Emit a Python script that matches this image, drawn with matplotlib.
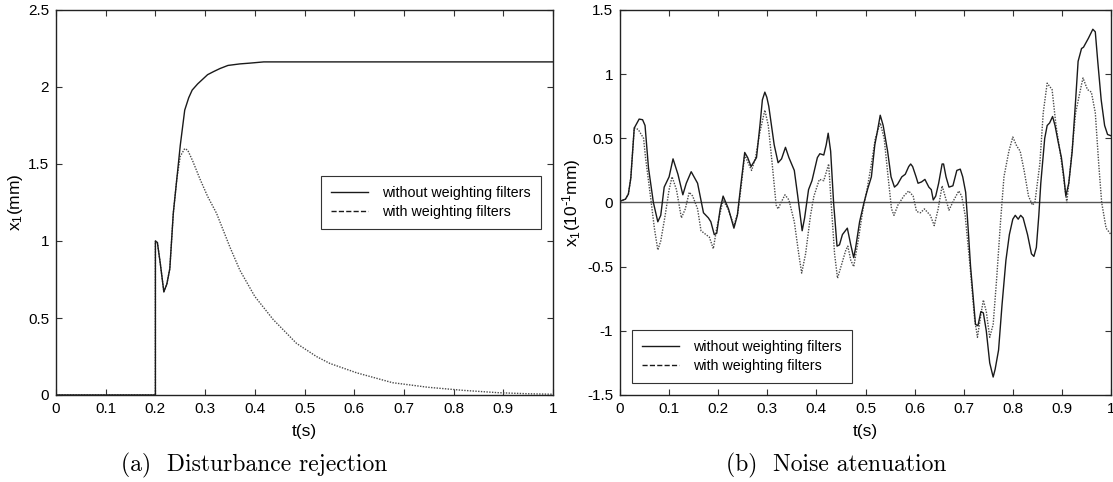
import matplotlib
matplotlib.use("Agg")
import matplotlib.pyplot as plt
from matplotlib.lines import Line2D
from matplotlib.ticker import FormatStrFormatter

plt.rcParams["font.family"] = ["Liberation Sans", "DejaVu Sans"]
plt.rcParams["mathtext.default"] = "regular"
plt.rcParams["axes.unicode_minus"] = False

# (a) disturbance rejection
t_a_solid = [0.0, 0.2, 0.2, 0.204, 0.21, 0.217, 0.223, 0.229, 0.236, 0.243, 0.25,
             0.259, 0.267, 0.274, 0.285, 0.295, 0.305, 0.317, 0.33, 0.346, 0.37,
             0.39, 0.418, 0.5, 1.0]
x1_without = [0.0, 0.0, 1.0, 0.99, 0.85, 0.67, 0.72, 0.82, 1.18, 1.40, 1.62,
              1.85, 1.93, 1.98, 2.02, 2.05, 2.08, 2.10, 2.12, 2.14, 2.15,
              2.155, 2.163, 2.163, 2.163]
t_a_dash = [0.0, 0.2, 0.2, 0.204, 0.21, 0.217, 0.223, 0.229, 0.236, 0.243, 0.25,
            0.259, 0.265, 0.275, 0.29, 0.305, 0.323, 0.35, 0.37, 0.40, 0.437,
            0.484, 0.524, 0.551, 0.605, 0.677, 0.749, 0.82, 0.89, 0.95, 1.0]
x1_with = [0.0, 0.0, 1.0, 0.99, 0.85, 0.67, 0.72, 0.82, 1.18, 1.40, 1.55,
           1.60, 1.59, 1.52, 1.40, 1.29, 1.18, 0.96, 0.81, 0.64, 0.49,
           0.335, 0.25, 0.205, 0.144, 0.08, 0.05, 0.03, 0.015, 0.008, 0.005]

# (b) noise attenuation
t_b_solid = [0.0, 0.011, 0.017, 0.022, 0.029, 0.039, 0.046, 0.051, 0.058, 0.068,
             0.077, 0.083, 0.09, 0.1, 0.108, 0.118, 0.128, 0.135, 0.145, 0.158,
             0.17, 0.18, 0.185, 0.192, 0.197, 0.204, 0.21, 0.221, 0.232, 0.239,
             0.245, 0.254, 0.26, 0.267, 0.278, 0.285, 0.29, 0.295, 0.299, 0.303,
             0.314, 0.322, 0.329, 0.337, 0.344, 0.355, 0.362, 0.371, 0.376, 0.384,
             0.391, 0.402, 0.407, 0.415, 0.42, 0.424, 0.429, 0.435, 0.442, 0.447,
             0.453, 0.463, 0.47, 0.476, 0.48, 0.488, 0.497, 0.504, 0.512, 0.519,
             0.524, 0.53, 0.536, 0.545, 0.552, 0.559, 0.565, 0.574, 0.581, 0.588,
             0.592, 0.596, 0.603, 0.607, 0.614, 0.621, 0.629, 0.634, 0.638, 0.643,
             0.649, 0.656, 0.659, 0.664, 0.67, 0.678, 0.686, 0.693, 0.698, 0.704,
             0.709, 0.714, 0.724, 0.729, 0.735, 0.74, 0.746, 0.753, 0.76, 0.764,
             0.771, 0.778, 0.786, 0.793, 0.8, 0.805, 0.811, 0.816, 0.821, 0.83,
             0.838, 0.843, 0.848, 0.853, 0.857, 0.865, 0.87, 0.875, 0.881, 0.886,
             0.892, 0.899, 0.904, 0.908, 0.914, 0.921, 0.928, 0.933, 0.94, 0.944,
             0.954, 0.963, 0.968, 0.973, 0.98, 0.987, 0.993, 1.0]
noise_without = [0.01, 0.026, 0.065, 0.19, 0.58, 0.65, 0.645, 0.60, 0.27, 0.0,
                 -0.15, -0.1, 0.12, 0.2, 0.34, 0.22, 0.06, 0.15, 0.24, 0.15,
                 -0.08, -0.12, -0.15, -0.25, -0.24, -0.05, 0.05, -0.05, -0.2, -0.1,
                 0.1, 0.39, 0.35, 0.28, 0.35, 0.6, 0.8, 0.86, 0.82, 0.75,
                 0.45, 0.31, 0.34, 0.43, 0.35, 0.25, 0.05, -0.22, -0.12, 0.1,
                 0.17, 0.35, 0.38, 0.37, 0.45, 0.54, 0.4, 0.0, -0.34, -0.33,
                 -0.25, -0.2, -0.33, -0.43, -0.35, -0.15, 0.0, 0.1, 0.2, 0.45,
                 0.55, 0.68, 0.6, 0.4, 0.2, 0.12, 0.14, 0.2, 0.22, 0.28,
                 0.3, 0.28, 0.2, 0.15, 0.16, 0.18, 0.12, 0.1, 0.02, 0.05,
                 0.15, 0.3, 0.3, 0.2, 0.12, 0.13, 0.25, 0.26, 0.2, 0.08,
                 -0.2, -0.5, -0.95, -0.96, -0.85, -0.86, -1.0, -1.25, -1.36, -1.3,
                 -1.15, -0.8, -0.45, -0.25, -0.13, -0.1, -0.13, -0.1, -0.12, -0.25,
                 -0.4, -0.42, -0.35, -0.1, 0.15, 0.5, 0.6, 0.62, 0.67, 0.6,
                 0.48, 0.35, 0.2, 0.05, 0.15, 0.4, 0.8, 1.1, 1.2, 1.21,
                 1.28, 1.35, 1.33, 1.1, 0.8, 0.6, 0.53, 0.52]
t_b_dash = [0.0, 0.011, 0.017, 0.022, 0.029, 0.037, 0.048, 0.052, 0.062, 0.07,
            0.077, 0.083, 0.092, 0.1, 0.106, 0.115, 0.125, 0.133, 0.141, 0.148,
            0.158, 0.165, 0.175, 0.182, 0.19, 0.197, 0.21, 0.22, 0.232, 0.24,
            0.246, 0.254, 0.262, 0.268, 0.276, 0.285, 0.295, 0.302, 0.31, 0.318,
            0.322, 0.328, 0.336, 0.344, 0.355, 0.364, 0.37, 0.378, 0.388, 0.395,
            0.406, 0.415, 0.425, 0.43, 0.437, 0.443, 0.45, 0.46, 0.464, 0.47,
            0.476, 0.485, 0.495, 0.503, 0.512, 0.52, 0.53, 0.538, 0.546, 0.553,
            0.558, 0.566, 0.578, 0.588, 0.597, 0.604, 0.612, 0.62, 0.632, 0.64,
            0.648, 0.656, 0.662, 0.67, 0.68, 0.69, 0.696, 0.703, 0.713, 0.722,
            0.728, 0.736, 0.74, 0.746, 0.753, 0.76, 0.767, 0.775, 0.782, 0.792,
            0.8, 0.808, 0.815, 0.823, 0.832, 0.84, 0.845, 0.855, 0.862, 0.87,
            0.88, 0.888, 0.898, 0.91, 0.918, 0.928, 0.94, 0.943, 0.952, 0.96,
            0.968, 0.975, 0.981, 0.99, 1.0]
noise_with = [0.01, 0.026, 0.065, 0.19, 0.58, 0.57, 0.5, 0.35, 0.05, -0.2,
              -0.37, -0.3, -0.1, 0.1, 0.2, 0.1, -0.12, -0.05, 0.08, 0.05,
              -0.05, -0.22, -0.25, -0.27, -0.36, -0.2, 0.02, -0.05, -0.18, -0.08,
              0.1, 0.37, 0.3, 0.25, 0.35, 0.55, 0.72, 0.6, 0.3, -0.02,
              -0.05, 0.0, 0.06, 0.02, -0.15, -0.4, -0.55, -0.4, -0.1, 0.05,
              0.18, 0.17, 0.3, 0.0, -0.4, -0.59, -0.5, -0.37, -0.34, -0.45,
              -0.5, -0.3, -0.05, 0.1, 0.3, 0.5, 0.62, 0.5, 0.2, -0.05,
              -0.1, -0.02, 0.05, 0.09, 0.05, -0.07, -0.08, -0.05, -0.1, -0.18,
              -0.05, 0.13, 0.05, -0.06, 0.02, 0.09, 0.05, -0.1, -0.5, -0.9,
              -1.05, -0.85, -0.76, -0.85, -1.05, -0.95, -0.6, -0.15, 0.2, 0.4,
              0.51, 0.44, 0.4, 0.25, 0.05, -0.02, 0.0, 0.3, 0.7, 0.93,
              0.88, 0.6, 0.35, 0.0, 0.3, 0.7, 0.92, 0.97, 0.88, 0.86,
              0.7, 0.3, 0.0, -0.2, -0.25]

labels = ["without weighting filters", "with weighting filters"]

SOLID_COLOR = "#1a1a1a"
DASH_COLOR = "#4a4a4a"


def style_axes(ax):
    ax.tick_params(direction="in", top=True, right=True, length=4,
                   labelsize=11, width=0.8, color="#333333", pad=5)
    for sp in ax.spines.values():
        sp.set_color("#222222")
        sp.set_linewidth(1.0)
    ax.xaxis.set_major_formatter(FormatStrFormatter("%g"))
    ax.yaxis.set_major_formatter(FormatStrFormatter("%g"))
    ax.set_xlim(0, 1)
    ax.set_xticks([i / 10 for i in range(11)])
    ax.set_xlabel("t(s)", fontsize=12.5, labelpad=6)


def add_legend(ax, anchor):
    handles = [Line2D([], [], color=SOLID_COLOR, lw=1.0, linestyle="-"),
               Line2D([], [], color=SOLID_COLOR, lw=1.0, linestyle="--")]
    leg = ax.legend(handles, labels, loc="upper left", bbox_to_anchor=anchor,
                    fontsize=10.3, fancybox=False, framealpha=1,
                    edgecolor="#333333", handlelength=2.6, borderpad=0.7,
                    labelspacing=0.35, handletextpad=1.0, borderaxespad=0)
    leg.get_frame().set_linewidth(0.8)


fig = plt.figure(figsize=(11.13, 4.82), dpi=100)
ax_a = fig.add_axes([56 / 1113, 1 - 395 / 482, 497 / 1113, 385 / 482])
ax_b = fig.add_axes([620 / 1113, 1 - 395 / 482, 491 / 1113, 385 / 482])

# left panel
ax_a.plot(t_a_dash, x1_with, color=DASH_COLOR, lw=1.0, linestyle=(0, (1, 1)))
ax_a.plot(t_a_solid, x1_without, color=SOLID_COLOR, lw=1.0)
style_axes(ax_a)
ax_a.set_ylim(0, 2.5)
ax_a.set_yticks([0, 0.5, 1, 1.5, 2, 2.5])
ax_a.set_ylabel("x$_1$(mm)", fontsize=12.5, labelpad=2)
add_legend(ax_a, ((321 - 56) / 497, (395 - 176) / 385))

# right panel
ax_b.axhline(0, color="#555555", lw=1.0)
ax_b.plot(t_b_dash, noise_with, color=DASH_COLOR, lw=1.0, linestyle=(0, (1, 1)))
ax_b.plot(t_b_solid, noise_without, color=SOLID_COLOR, lw=1.0)
style_axes(ax_b)
ax_b.set_ylim(-1.5, 1.5)
ax_b.set_yticks([-1.5, -1, -0.5, 0, 0.5, 1, 1.5])
ax_b.set_ylabel("x$_1$(10$^{\\text{-}1}$mm)", fontsize=12.5, labelpad=3)
add_legend(ax_b, ((632 - 620) / 491, (395 - 330) / 385))

# sub-captions
fig.text(254 / 1113, 1 - 465 / 482, "(a)  Disturbance rejection",
         family="cmr10", fontsize=17, ha="center", va="center")
fig.text(836 / 1113, 1 - 465 / 482, "(b)  Noise atenuation",
         family="cmr10", fontsize=17, ha="center", va="center")

fig.savefig("out.png", dpi=100)
